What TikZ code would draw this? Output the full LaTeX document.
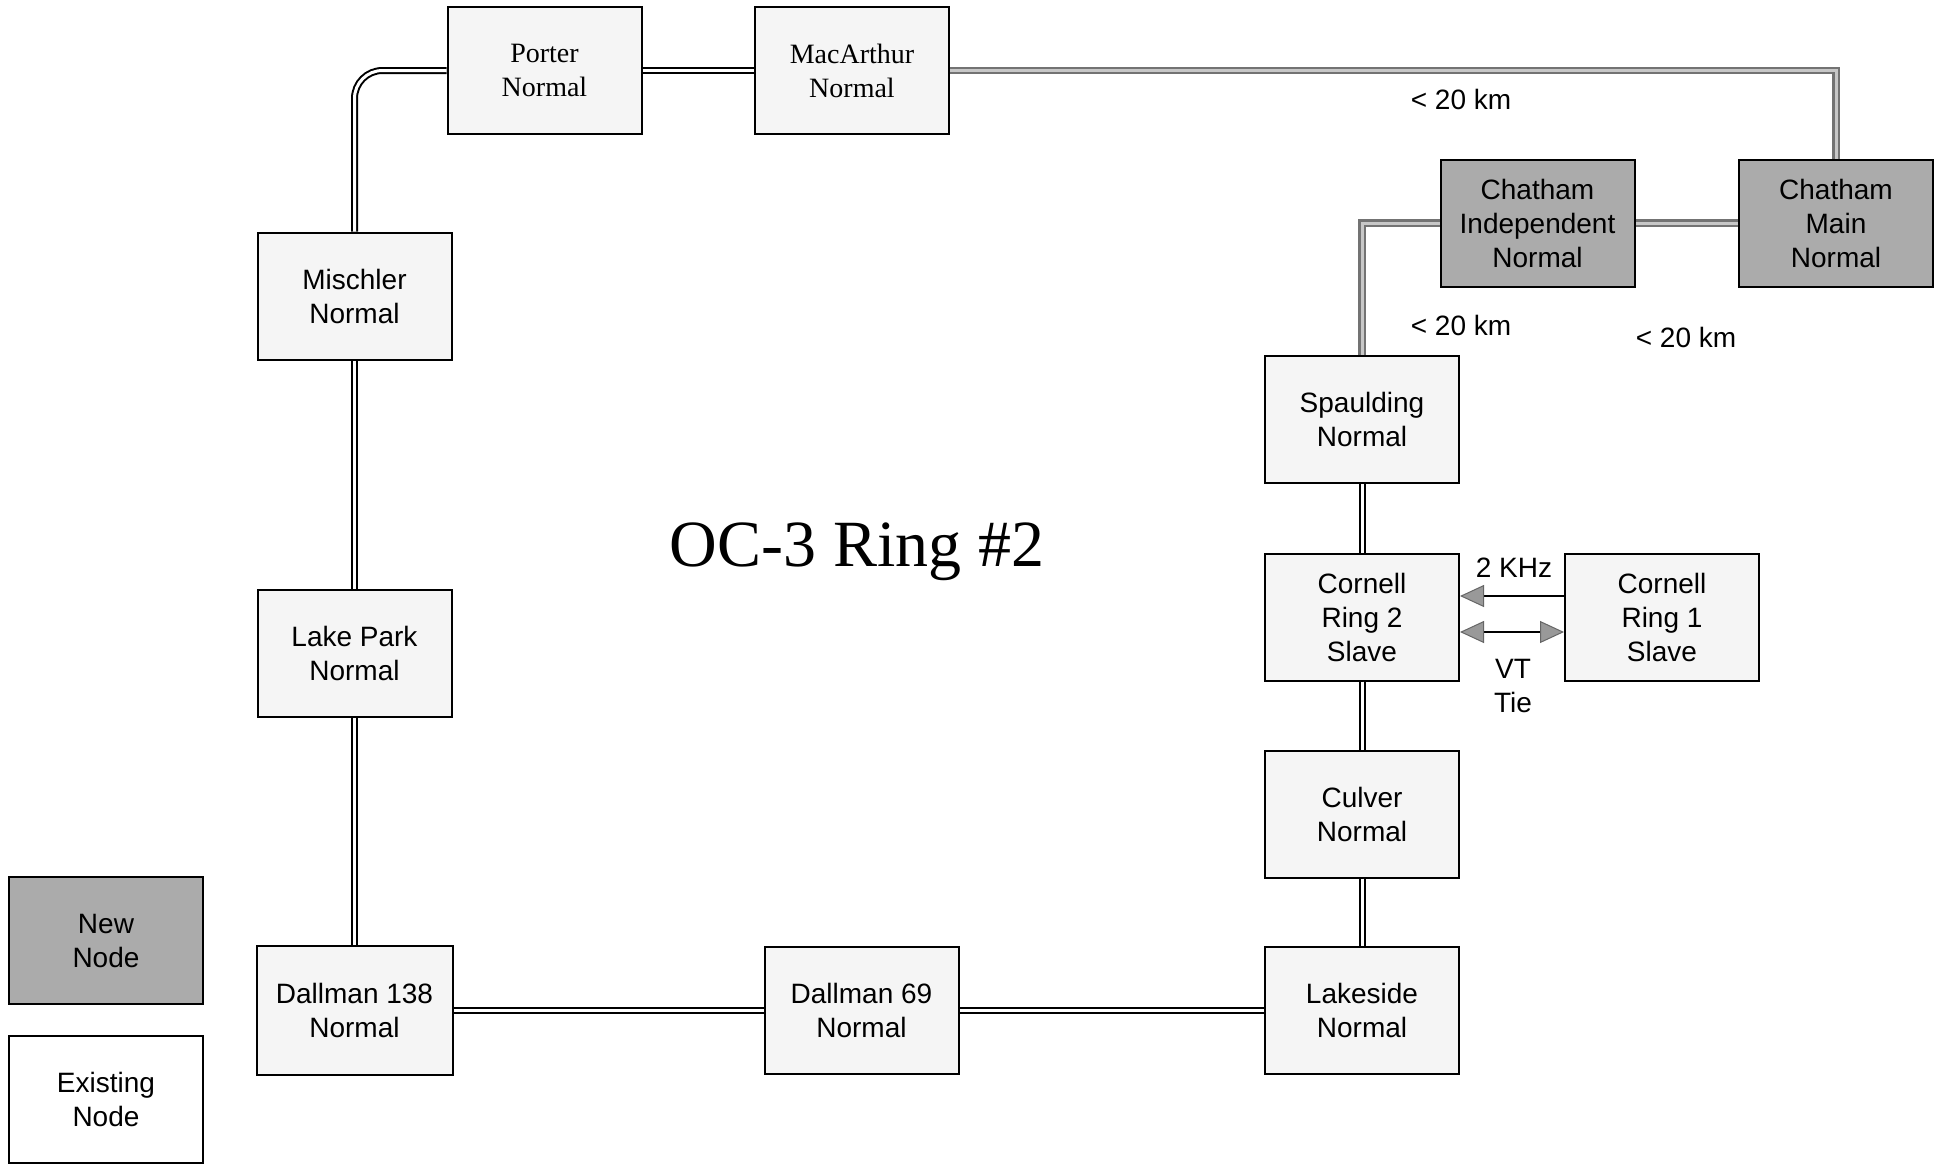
\documentclass[tikz,border=0pt]{standalone}
\usepackage{fontspec}
\setmainfont{Liberation Serif}
\setsansfont{Liberation Sans}
\usetikzlibrary{arrows.meta}
\tikzset{
  box/.style={draw=black, line width=2pt, minimum width=194pt, minimum height=127pt,
    inner sep=0pt, align=center, font=\sffamily\fontsize{28}{34}\selectfont},
  oldbox/.style={box, fill=black!4},
  newbox/.style={box, fill=black!33},
  serifbox/.style={oldbox, font=\rmfamily\fontsize{28}{34}\selectfont},
  link/.style={draw=black, line width=2pt, double=white, double distance=3pt},
  newlink/.style={draw=black!55, line width=2.2pt, double=black!22, double distance=3pt},
  sig/.style={draw=black, line width=2pt},
  lbl/.style={font=\sffamily\fontsize{28}{34}\selectfont, align=center, inner sep=0pt},
}
\begin{document}
\begin{tikzpicture}[x=1pt, y=-1pt]
\useasboundingbox[fill=white] (0,0) rectangle (1944,1168);

% nodes
\node[serifbox] (porter) at (544.5,70.5) {Porter\\Normal};
\node[serifbox] (macarthur) at (852,70.5) {MacArthur\\Normal};
\node[newbox] (chind) at (1537.5,223) {Chatham\\Independent\\Normal};
\node[newbox] (chmain) at (1836,223) {Chatham\\Main\\Normal};
\node[oldbox] (mischler) at (354.5,296) {Mischler\\Normal};
\node[oldbox] (spaulding) at (1362,419.5) {Spaulding\\Normal};
\node[oldbox] (lakepark) at (354.5,653) {Lake Park\\Normal};
\node[oldbox] (cornell2) at (1362,617) {Cornell\\Ring 2\\Slave};
\node[oldbox] (cornell1) at (1662,617) {Cornell\\Ring 1\\Slave};
\node[oldbox] (culver) at (1362,814) {Culver\\Normal};
\node[newbox] (newnode) at (106,940.5) {New\\Node};
\node[box, fill=white] (existing) at (106,1099.5) {Existing\\Node};
\node[oldbox, minimum width=196pt, minimum height=129pt] (dallman138) at (354.5,1010) {Dallman 138\\Normal};
\node[oldbox] (dallman69) at (861.5,1010) {Dallman 69\\Normal};
\node[oldbox] (lakeside) at (1362,1010) {Lakeside\\Normal};

% connectors
\draw[link, rounded corners=28pt] (mischler.north) |- (porter.west);
\draw[link] (porter.east) -- (macarthur.west);
\draw[newlink] (macarthur.east) -| (chmain.north);
\draw[newlink] (chmain.west) -- (chind.east);
\draw[newlink] (chind.west) -| (spaulding.north);
\draw[link] (spaulding.south) -- (cornell2.north);
\draw[link] (cornell2.south) -- (culver.north);
\draw[link] (culver.south) -- (lakeside.north);
\draw[link] (lakeside.west) -- (dallman69.east);
\draw[link] (dallman69.west) -- (dallman138.east);
\draw[link] (dallman138.north) -- (lakepark.south);
\draw[link] (lakepark.north) -- (mischler.south);

% signal arrows
\draw[sig, -{Triangle[length=24pt, width=22pt, fill=black!40, color=black!60, line width=1pt]}]
  ([yshift=21pt]cornell1.west) -- ([yshift=21pt]cornell2.east);
\draw[sig, {Triangle[length=24pt, width=22pt, fill=black!40, color=black!60, line width=1pt]}-{Triangle[length=24pt, width=22pt, fill=black!40, color=black!60, line width=1pt]}]
  ([yshift=-15pt]cornell2.east) -- ([yshift=-15pt]cornell1.west);

% labels
\node[lbl] (lblA) at (1461,99) {< 20 km};
\node[lbl] (lblB) at (1461,325) {< 20 km};
\node[lbl] (lblC) at (1686,337) {< 20 km};
\node[lbl] (lblkhz) at (1514,568) {2 KHz};
\node[lbl] (lblvt) at (1513,686) {VT\\Tie};
\node[font=\rmfamily\fontsize{66}{70}\selectfont, inner sep=0pt] (title) at (857,552) {OC-3 Ring \#2};
\end{tikzpicture}
\end{document}
